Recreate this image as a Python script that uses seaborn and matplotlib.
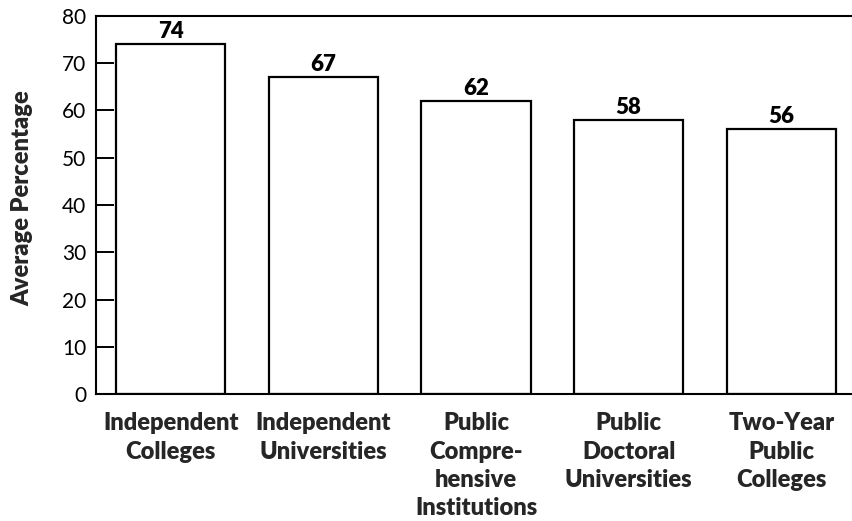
import matplotlib
matplotlib.use("Agg")
import matplotlib.pyplot as plt
import seaborn as sns
import pandas as pd

categories = ["Independent\nColleges", "Independent\nUniversities",
              "Public\nCompre-\nhensive\nInstitutions",
              "Public\nDoctoral\nUniversities", "Two-Year\nPublic\nColleges"]
values = [74, 67, 62, 58, 56]
yticks = [0, 10, 20, 30, 40, 50, 60, 70, 80]

sns.set_theme(style="white")
plt.rcParams['font.family'] = ['Lato', 'DejaVu Sans']

df = pd.DataFrame({"cat": categories, "val": values})

fig = plt.figure(figsize=(8.53, 5.21), dpi=100)
ax = fig.add_axes([96/853, 1-394/521, 1-96/853, (394-16)/521])

sns.barplot(data=df, x="cat", y="val", ax=ax, color="white",
            edgecolor="black", linewidth=1.6, width=0.715, saturation=1)

for i, v in enumerate(values):
    ax.text(i, v + 0.5, str(v), ha="center", va="bottom",
            fontsize=16, fontweight="heavy", color="black")

ax.set_ylim(0, 80)
ax.set_xlim(-0.49, 4.47)
ax.set_yticks(yticks)
ax.set_yticklabels([str(t) for t in yticks], fontsize=15)
ax.tick_params(axis="y", direction="in", length=13, width=1.4, pad=7,
               left=True, colors="black")
ax.tick_params(axis="x", length=0, pad=13)
for lab in ax.get_xticklabels():
    lab.set_fontsize(17)
    lab.set_fontweight("heavy")
    lab.set_linespacing(1.36)
    lab.set_verticalalignment("top")
ax.set_xlabel("")
ax.set_ylabel("Average Percentage", fontsize=17, fontweight="heavy")
ax.yaxis.label.set_verticalalignment("center")
ax.yaxis.set_label_coords((22 - 96) / 757, (394 - 198) / 378)

for s in ["left", "top", "bottom"]:
    ax.spines[s].set_visible(True)
    ax.spines[s].set_color("black")
    ax.spines[s].set_linewidth(1.5)
ax.spines["right"].set_visible(False)

fig.savefig("out.png", dpi=100)
